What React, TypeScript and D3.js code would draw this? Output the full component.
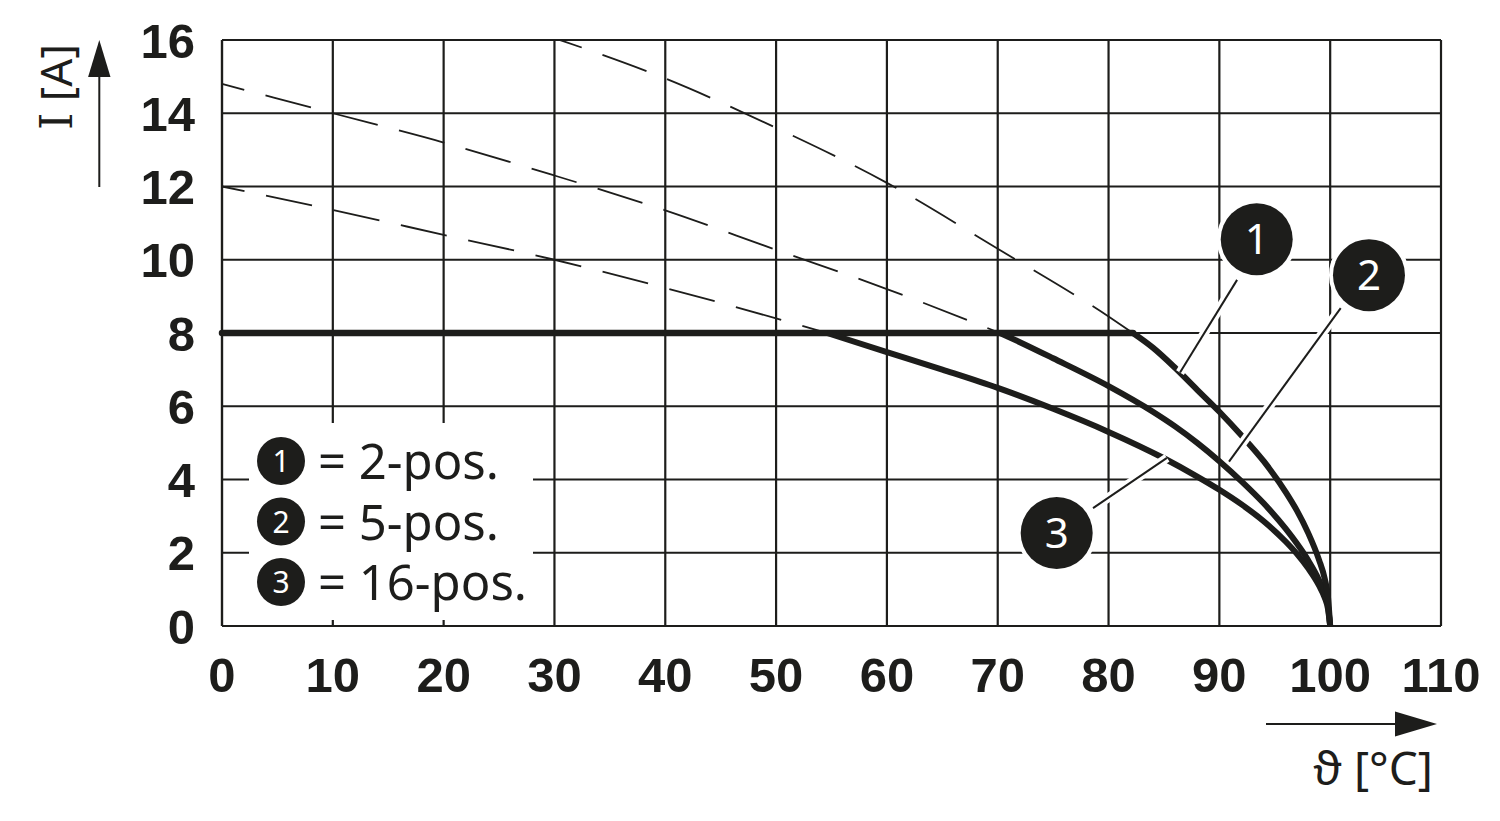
import React from "react";
import * as d3 from "d3";

// ---- data ----
const xTicks = [0, 10, 20, 30, 40, 50, 60, 70, 80, 90, 100, 110];
const yTicks = [0, 2, 4, 6, 8, 10, 12, 14, 16];

const ratedCurrent = 8;
const plateauStart = 0;
const plateauEnd = 82.2;

// solid derating curves (T [°C], I [A])
const curve1 = [
  [82.2, 8], [84, 7.6], [86, 7.05], [88, 6.45], [90, 5.85], [92, 5.2],
  [94, 4.5], [96, 3.65], [97, 3.15], [98, 2.55], [99, 1.8], [99.5, 1.3], [99.8, 0.8], [100, 0],
];
const curve2 = [
  [70.2, 8], [72, 7.75], [75, 7.31], [80, 6.55], [84, 5.85], [86, 5.45], [88, 5.0],
  [90, 4.5], [92, 3.95], [94, 3.35], [96, 2.65], [97, 2.25], [98, 1.8], [99, 1.25],
  [99.5, 0.88], [99.8, 0.55], [100, 0],
];
const curve3 = [
  [54.6, 8], [60, 7.48], [65, 7.0], [70, 6.5], [75, 5.93], [80, 5.3], [85, 4.58],
  [88, 4.08], [90, 3.72], [92, 3.32], [94, 2.86], [96, 2.3], [97, 1.97], [98, 1.58],
  [99, 1.1], [99.5, 0.78], [99.8, 0.47], [100, 0],
];

// dashed extrapolations
const dashed1 = [[30.5, 16], [40, 14.95], [50, 13.6], [60, 12.1], [70, 10.3], [80, 8.45], [82.2, 8]];
const dashed2 = [[0, 14.8], [10, 14.0], [20, 13.2], [30, 12.3], [40, 11.35], [50, 10.27], [60, 9.2], [70.2, 8]];
const dashed3 = [[0, 12.0], [10, 11.36], [20, 10.68], [30, 10.0], [40, 9.23], [50, 8.4], [54.6, 8]];

// callouts: label, circle center (T, I), leader from (T, I) to (T, I)
const callouts = [
  { label: "1", cx: 93.37, cy: 10.56, from: [91.6, 9.45], to: [86.45, 6.92] },
  { label: "2", cx: 103.5, cy: 9.58, from: [100.95, 8.68], to: [90.87, 4.49] },
  { label: "3", cx: 75.32, cy: 2.54, from: [78.6, 3.22], to: [85.27, 4.59] },
];

const legendItems = [
  { label: "1", text: "= 2-pos." },
  { label: "2", text: "= 5-pos." },
  { label: "3", text: "= 16-pos." },
];

const xTitle = "ϑ [°C]";
const yTitleSym = "I";
const yTitleUnit = " [A]";

// ---- layout ----
const W = 1500;
const H = 821;
const INK = "#1d1d1b";

export default function App() {
  const x = d3.scaleLinear().domain([0, 110]).range([222, 1441]);
  const y = d3.scaleLinear().domain([0, 16]).range([626, 40]);

  const line = d3
    .line<number[]>()
    .x((d) => x(d[0]))
    .y((d) => y(d[1]))
    .curve(d3.curveMonotoneX);

  const x0 = x(0), x1 = x(110), y0 = y(0), y1 = y(16);

  return (
    <svg
      width={W}
      height={H}
      viewBox={`0 0 ${W} ${H}`}
      style={{ position: "absolute", left: 0, top: 0, background: "#fff" }}
    >
      <rect x={0} y={0} width={W} height={H} fill="#fff" />
      {/* grid */}
      <g stroke={INK} strokeWidth={2.2}>
        {xTicks.map((t) => (
          <line key={"gx" + t} x1={x(t)} x2={x(t)} y1={y0} y2={y1} />
        ))}
        {yTicks.map((t) => (
          <line key={"gy" + t} x1={x0} x2={x1} y1={y(t)} y2={y(t)} />
        ))}
      </g>
      {/* legend white box */}
      <rect x={249} y={423} width={284} height={197} fill="#fff" />
      <g stroke={INK} strokeWidth={2.2} fill="none">
        <line x1={x0} x2={x0} y1={y0} y2={y1} />
      </g>

      {/* dashed extrapolations */}
      <g fill="none" stroke={INK} strokeWidth={1.8} strokeDasharray="47 22" strokeDashoffset={24}>
        <path d={line(dashed1 as any) || ""} />
        <path d={line(dashed2 as any) || ""} />
        <path d={line(dashed3 as any) || ""} />
      </g>

      {/* rated current plateau */}
      <line
        x1={x(plateauStart)}
        x2={x(plateauEnd)}
        y1={y(ratedCurrent)}
        y2={y(ratedCurrent)}
        stroke={INK}
        strokeWidth={6.5}
        strokeLinecap="round"
      />
      {/* derating curves */}
      <g fill="none" stroke={INK} strokeWidth={6} strokeLinejoin="round">
        <path d={line(curve3 as any) || ""} />
        <path d={line(curve2 as any) || ""} />
        <path d={line(curve1 as any) || ""} />
      </g>

      {/* callouts */}
      {callouts.map((c) => (
        <g key={"c" + c.label}>
          <line
            x1={x(c.from[0])} y1={y(c.from[1])} x2={x(c.to[0])} y2={y(c.to[1])}
            stroke="#fff" strokeWidth={9}
          />
          <line
            x1={x(c.from[0])} y1={y(c.from[1])} x2={x(c.to[0])} y2={y(c.to[1])}
            stroke={INK} strokeWidth={2}
          />
          <circle cx={x(c.cx)} cy={y(c.cy)} r={36} fill={INK} stroke="#fff" strokeWidth={8} paintOrder="stroke" />
          <text
            x={x(c.cx)}
            y={y(c.cy) + 15}
            textAnchor="middle"
            fill="#fff"
            fontFamily="'Noto Sans', sans-serif"
            fontSize={42}
          >
            {c.label}
          </text>
        </g>
      ))}

      {/* legend */}
      {legendItems.map((it, i) => {
        const cy = 461 + i * 60.5;
        return (
          <g key={"l" + i}>
            <circle cx={281} cy={cy} r={24} fill={INK} />
            <text x={281} y={cy + 11} textAnchor="middle" fill="#fff" fontFamily="'Noto Sans', sans-serif" fontSize={30}>
              {it.label}
            </text>
            <text x={318} y={cy + 18} fill={INK} fontFamily="'Noto Sans', sans-serif" fontSize={49}>
              {it.text}
            </text>
          </g>
        );
      })}

      {/* tick labels */}
      <g fill={INK} fontFamily="'Liberation Sans', Arial, sans-serif" fontWeight="bold" fontSize={49}>
        {xTicks.map((t) => (
          <text key={"tx" + t} x={x(t)} y={692} textAnchor="middle">
            {t}
          </text>
        ))}
        {yTicks.map((t) => (
          <text key={"ty" + t} x={195} y={y(t) + 17.5} textAnchor="end">
            {t}
          </text>
        ))}
      </g>

      {/* y axis title + arrow */}
      <text
        transform="translate(72,130) rotate(-90)"
        fill={INK}
        fontFamily="'Noto Sans', sans-serif"
        fontSize={44}
      >
        <tspan fontFamily="'DejaVu Serif', serif">{yTitleSym}</tspan>
        {yTitleUnit}
      </text>
      <line x1={99.3} x2={99.3} y1={187} y2={70} stroke={INK} strokeWidth={2} />
      <path d="M99.3,40 L110.5,77 L88.1,77 Z" fill={INK} />

      {/* x axis title + arrow */}
      <line x1={1266} x2={1400} y1={724} y2={724} stroke={INK} strokeWidth={2} />
      <path d="M1437,724 L1395,711.5 L1395,736.5 Z" fill={INK} />
      <text
        x={1433}
        y={785}
        textAnchor="end"
        fill={INK}
        fontFamily="'Noto Sans', 'DejaVu Sans', sans-serif"
        fontSize={46}
      >
        {xTitle}
      </text>
    </svg>
  );
}
